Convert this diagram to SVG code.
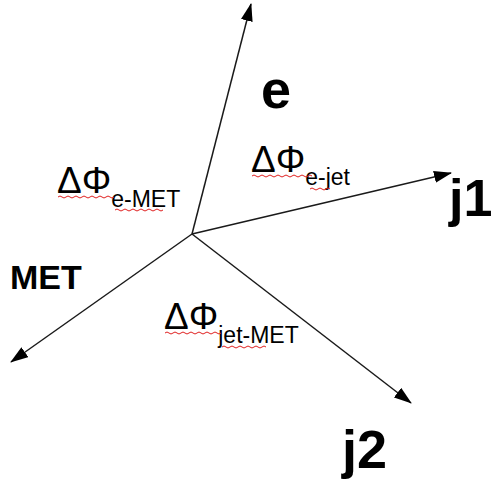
<svg xmlns="http://www.w3.org/2000/svg" width="494" height="487" viewBox="0 0 494 487">
<style>
.ax{stroke:#1a1a1a;stroke-width:1.5;fill:none}
.big{font-family:"Liberation Sans",Arial,sans-serif;font-weight:bold;fill:#000}
.phi{font-family:"Liberation Sans",Arial,sans-serif;fill:#000}
.wave{stroke:#e02020;stroke-width:1;fill:none}
</style>
<defs>
<marker id="ah" markerUnits="userSpaceOnUse" markerWidth="18" markerHeight="12" refX="17" refY="6" orient="auto">
<path d="M0,0 L18,6 L0,12 z" fill="#000"/>
</marker>
</defs>
<rect width="494" height="487" fill="#fff"/>
<g id="connectors">
<line class="ax" x1="192" y1="234" x2="251" y2="4" marker-end="url(#ah)"/>
<line class="ax" x1="192" y1="234" x2="451" y2="173" marker-end="url(#ah)"/>
<line class="ax" x1="192" y1="234" x2="11" y2="362" marker-end="url(#ah)"/>
<line class="ax" x1="192" y1="234" x2="411" y2="403" marker-end="url(#ah)"/>
</g>
<g id="e"><text class="big" x="261" y="108" font-size="54">e</text></g>
<g id="j1"><text class="big" x="449" y="216" font-size="52">j1</text></g>
<g id="j2"><text class="big" x="342" y="468" font-size="54">j2</text></g>
<g id="MET"><text class="big" x="10" y="289" font-size="34">MET</text></g>
<g id="dphi-e-jet">
<text class="phi" x="251" y="172" font-size="37">ΔΦ<tspan font-size="23" dy="13">e-jet</tspan></text>
<path class="wave" d="M252,176 q2,-2 4,0 t4,0 t4,0 t4,0 t4,0 t4,0 t4,0 t4,0 t4,0 t4,0 t4,0 t4,0 t4,0 t4,0 t4,0"/>
<path class="wave" d="M310,189 q2,-2 4,0 t4,0 t4,0 t4,0 t4,0"/>
</g>
<g id="dphi-e-MET">
<text class="phi" x="57" y="193" font-size="37">ΔΦ<tspan font-size="23" dy="14">e-MET</tspan></text>
<path class="wave" d="M58,197 q2,-2 4,0 t4,0 t4,0 t4,0 t4,0 t4,0 t4,0 t4,0 t4,0 t4,0 t4,0 t4,0 t4,0 t4,0"/>
<path class="wave" d="M115,210 q2,-2 4,0 t4,0 t4,0 t4,0 t4,0 t4,0 t4,0 t4,0 t4,0 t4,0 t4,0 t4,0"/>
</g>
<g id="dphi-jet-MET">
<text class="phi" x="164" y="329" font-size="37">ΔΦ<tspan font-size="23" dy="14">jet-MET</tspan></text>
<path class="wave" d="M165,333 q2,-2 4,0 t4,0 t4,0 t4,0 t4,0 t4,0 t4,0 t4,0 t4,0 t4,0 t4,0 t4,0 t4,0 t4,0"/>
<path class="wave" d="M222,347 q2,-2 4,0 t4,0 t4,0 t4,0 t4,0 t4,0 t4,0 t4,0 t4,0 t4,0 t4,0"/>
</g>
</svg>
